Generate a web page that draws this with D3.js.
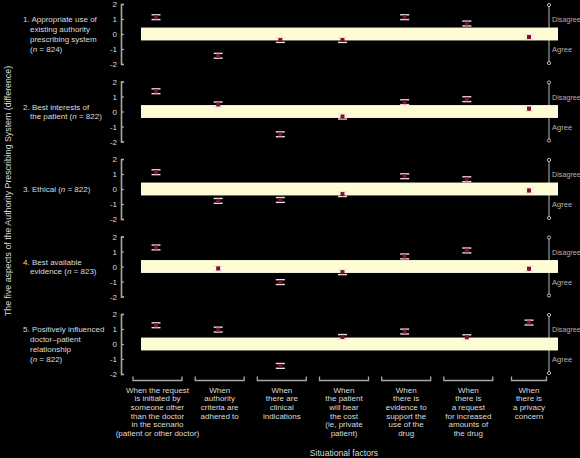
<!DOCTYPE html>
<html><head><meta charset="utf-8">
<script src="https://cdn.jsdelivr.net/npm/d3@7"></script>
<style>
html,body{margin:0;padding:0;background:#000;}
svg{display:block;font-family:"Liberation Sans",Arial,sans-serif;}
</style></head>
<body><svg id="c" width="580" height="458"></svg>
<script>
const categories = ["c1","c2","c3","c4","c5","c6","c7"];
const categoryLabels = [
  ["When the request","is initiated by","someone other","than the doctor","in the scenario","(patient or other doctor)"],
  ["When","authority","criteria are","adhered to"],
  ["When","there are","clinical","indications"],
  ["When","the patient","will bear","the cost","(ie, private","patient)"],
  ["When","there is","evidence to","support the","use of the","drug"],
  ["When","there is","a request","for increased","amounts of","the drug"],
  ["When","there is","a privacy","concern"]
];
const aspectLabels = [
  ["1. Appropriate use of","existing authority","prescribing system","(n = 824)"],
  ["2. Best interests of","the patient (n = 822)"],
  ["3. Ethical (n = 822)"],
  ["4. Best available","evidence (n = 823)"],
  ["5. Positively influenced","doctor\u2013patient","relationship","(n = 822)"]
];
const aspect1 = [1.12, -1.45, -0.40, -0.40, 1.12, 0.70, -0.20];
const aspect2 = [1.35, 0.47, -1.52, -0.34, 0.62, 0.82, 0.19];
const aspect3 = [1.12, -0.79, -0.73, -0.34, 0.85, 0.65, -0.10];
const aspect4 = [1.27, -0.13, -1.04, -0.38, 0.67, 1.07, -0.15];
const aspect5 = [1.25, 0.96, -1.46, 0.47, 0.83, 0.45, 1.43];
const seriesValues = [aspect1, aspect2, aspect3, aspect4, aspect5];
const ciHalf = 0.16;
const neutralBand = [-0.43, 0.43];
const yTicks = [2, 1, 0, -1, -2];
const yTitle = "The five aspects of the Authority Prescribing System (difference)";
const xTitle = "Situational factors";

const svg = d3.select("#c");
const txt = "#dcdcdc", axisCol = "#a8a8a8";
const x = d3.scalePoint().domain(categories).range([156, 529]);

seriesValues.forEach((vals, p) => {
  const top = 4 + p * 77.5;
  const y = d3.scaleLinear().domain([2, -2]).range([top, top + 60]);
  const g = svg.append("g");

  // right bracket
  g.append("line").attr("x1", 549).attr("x2", 549)
    .attr("y1", y(2) + 1).attr("y2", y(-2) - 1)
    .attr("stroke", "#9a9a9a").attr("stroke-width", 1.2);
  [2, -2].forEach(v => g.append("circle").attr("cx", 549).attr("cy", y(v) + (v > 0 ? 1 : -1))
    .attr("r", 1.6).attr("fill", "#000").attr("stroke", "#bbb").attr("stroke-width", 1));

  // neutral band
  g.append("rect").attr("x", 141).attr("width", 558 - 141)
    .attr("y", y(neutralBand[1])).attr("height", y(neutralBand[0]) - y(neutralBand[1]))
    .attr("fill", "#fdfcd4");

  g.append("text").attr("x", 552).attr("y", y(1) + 3).attr("font-size", 7.2)
    .attr("fill", "#b0b0b0").text("Disagree");
  g.append("text").attr("x", 552).attr("y", y(-1) + 3).attr("font-size", 7.6)
    .attr("fill", "#b0b0b0").text("Agree");

  // y axis
  const ax = g.append("g").attr("transform", "translate(121,0)")
    .call(d3.axisLeft(y).tickValues(yTicks).tickSize(-3).tickPadding(4)
      .tickFormat(d => d === 0 ? "0" : (d < 0 ? "-" + Math.abs(d) : d)));
  ax.select(".domain").attr("stroke", axisCol).attr("stroke-width", 1.6);
  ax.selectAll(".tick line").attr("stroke", axisCol).attr("stroke-width", 1.2);
  ax.selectAll(".tick text").attr("fill", txt).attr("font-size", 8)
    .attr("font-family", "Liberation Sans, Arial, sans-serif");

  // panel label
  const lines = aspectLabels[p];
  const lh = 9.7;
  const y0 = y(0) - (lines.length - 1) * lh / 2 + 3;
  lines.forEach((ln, i) => {
    const t = g.append("text").attr("x", i === 0 ? 23 : 30).attr("y", y0 + i * lh)
      .attr("font-size", 8).attr("fill", txt);
    const m = ln.match(/^(.*)\((n)( = \d+\))$/);
    if (m) {
      t.append("tspan").text(m[1] + "(");
      t.append("tspan").attr("font-style", "italic").text("n");
      t.append("tspan").text(m[3]);
    } else t.text(ln);
  });

  // markers
  vals.forEach((v, i) => {
    const cx = x(categories[i]);
    const mg = g.append("g");
    mg.append("line").attr("x1", cx).attr("x2", cx).attr("y1", y(v + ciHalf)).attr("y2", y(v - ciHalf))
      .attr("stroke", "#7b0f2e").attr("stroke-width", 2);
    [v + ciHalf, v - ciHalf].forEach(c => mg.append("line")
      .attr("x1", cx - 4.5).attr("x2", cx + 4.5).attr("y1", y(c)).attr("y2", y(c))
      .attr("stroke", "#f2dde3").attr("stroke-width", 1.4));
    mg.append("rect").attr("x", cx - 2).attr("y", y(v) - 2).attr("width", 4).attr("height", 4)
      .attr("fill", "#7b0f2e");
  });
});

// bottom brackets and labels
categories.forEach((c, i) => {
  const cx = x(c);
  const hw = i === categories.length - 1 ? 17.5 : 24.5;
  const cxb = i === categories.length - 1 ? cx : cx + 1.5;
  svg.append("path")
    .attr("d", `M${cxb - hw},376.5V380.5H${cxb + hw}V376.5`)
    .attr("fill", "none").attr("stroke", axisCol).attr("stroke-width", 1.3);
  categoryLabels[i].forEach((ln, j) => {
    svg.append("text").attr("x", cxb).attr("y", 392.5 + j * 8.7)
      .attr("text-anchor", "middle").attr("font-size", 8).attr("fill", txt).text(ln);
  });
});

svg.append("text").attr("x", 344).attr("y", 456).attr("text-anchor", "middle")
  .attr("font-size", 8.6).attr("fill", txt).text(xTitle);

svg.append("text").attr("transform", "translate(11,191) rotate(-90)")
  .attr("text-anchor", "middle").attr("font-size", 8.8).attr("fill", txt).text(yTitle);
</script></body></html>
